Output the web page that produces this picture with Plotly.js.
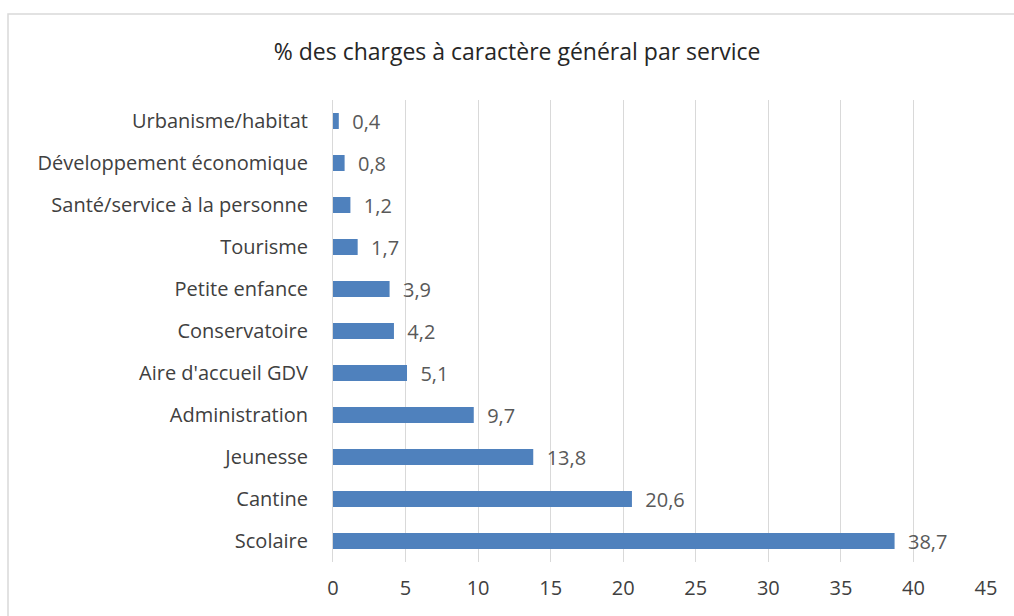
<!DOCTYPE html>
<html><head><meta charset="utf-8">
<script src="https://cdn.plot.ly/plotly-3.0.1.min.js"></script>
<style>body{margin:0;background:#fff}#c{width:1014px;height:616px}</style>
</head><body><div id="c"></div>
<script>
const categories = ["Scolaire","Cantine","Jeunesse","Administration","Aire d'accueil GDV","Conservatoire","Petite enfance","Tourisme","Santé/service à la personne","Développement économique","Urbanisme/habitat"];
const values = [38.7,20.6,13.8,9.7,5.1,4.2,3.9,1.7,1.2,0.8,0.4];
const xTicks = [0,5,10,15,20,25,30,35,40,45];
const titleText = "% des charges à caractère général par service";

const font = "'Open Sans', sans-serif";
Plotly.newPlot('c', [{
  type: 'bar', orientation: 'h',
  y: categories, x: values,
  marker: {color: '#4f81bd', line: {width: 0}},
  width: 0.38,
  text: values.map(v => '\u00a0\u00a0' + v.toFixed(1).replace('.', ',')),
  textposition: 'outside', cliponaxis: false, constraintext: 'none',
  textfont: {family: font, size: 20, color: '#595959'},
  hoverinfo: 'none'
}], {
  width: 1014, height: 616,
  margin: {l: 333, r: 28, t: 100, b: 54},
  paper_bgcolor: '#fff', plot_bgcolor: '#fff',
  separators: ', ',
  title: {text: titleText, font: {family: font, size: 23, color: '#262626'}, x: 0.51, xref: 'container', xanchor: 'center', y: 0.915, yref: 'container', yanchor: 'middle'},
  xaxis: {range: [0, 45], tickvals: xTicks, ticktext: xTicks.map(String), showgrid: true, gridcolor: '#d9d9d9', gridwidth: 1, zeroline: false, showline: false, ticks: '', tickfont: {family: font, size: 20, color: '#404040'}, ticklabelstandoff: 12, fixedrange: true},
  yaxis: {type: 'category', categoryorder: 'array', categoryarray: categories, range: [-0.5, 10.5], showline: true, linecolor: '#d9d9d9', linewidth: 1, showgrid: false, ticks: '', tickfont: {family: font, size: 20, color: '#404040'}, ticklabelstandoff: 20, fixedrange: true},
  bargap: 0.62,
  showlegend: false,
  shapes: [{type: 'rect', xref: 'paper', yref: 'paper', x0: -0.4977, x1: 1.06, y0: -0.3, y1: 1.186, line: {color: '#d9d9d9', width: 1.5}, fillcolor: 'rgba(0,0,0,0)', layer: 'below'}]
}, {displayModeBar: false, staticPlot: true});
</script></body></html>
